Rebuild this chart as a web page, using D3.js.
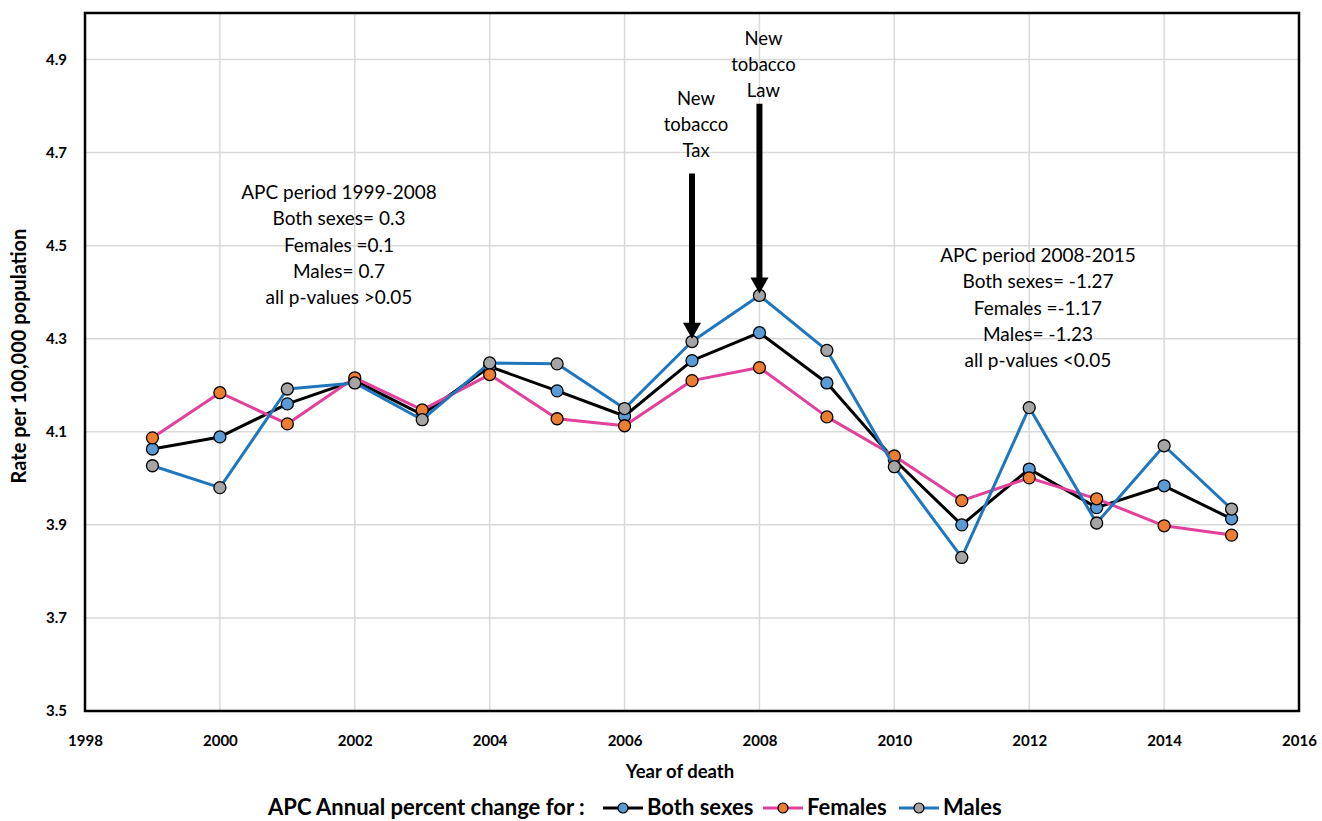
<!DOCTYPE html>
<html><head><meta charset="utf-8">
<script src="https://cdn.jsdelivr.net/npm/d3@7"></script>
<style>body{margin:0;background:#fff}svg{display:block}text{font-family:Lato,"Open Sans",sans-serif}</style>
</head><body><svg id="c" width="1322" height="821"></svg>
<script>
const years = [1999,2000,2001,2002,2003,2004,2005,2006,2007,2008,2009,2010,2011,2012,2013,2014,2015];
const bothSexes = [4.063,4.089,4.160,4.210,4.137,4.240,4.188,4.134,4.253,4.313,4.205,4.040,3.900,4.020,3.937,3.984,3.913];
const females  = [4.087,4.184,4.117,4.216,4.147,4.223,4.128,4.113,4.210,4.238,4.132,4.048,3.952,4.001,3.956,3.898,3.878];
const males    = [4.027,3.980,4.192,4.205,4.126,4.248,4.246,4.150,4.294,4.393,4.275,4.025,3.830,4.152,3.904,4.070,3.934];
const xTicks = [1998,2000,2002,2004,2006,2008,2010,2012,2014,2016];
const yTicks = [3.5,3.7,3.9,4.1,4.3,4.5,4.7,4.9];
const seriesNames = ["Both sexes","Females","Males"];
const leftNote = ["APC period 1999-2008","Both sexes= 0.3","Females =0.1","Males= 0.7","all p-values >0.05"];
const rightNote = ["APC period 2008-2015","Both sexes= -1.27","Females =-1.17","Males= -1.23","all p-values <0.05"];
const events = [{year:2007, label:["New","tobacco","Tax"], top:4.655, tip:4.3},
                {year:2008, label:["New","tobacco","Law"], top:4.805, tip:4.397}];

const lineCol = ["#000000","#E2409B","#1E77BE"];
const markCol = ["#5B9BD5","#ED7D31","#A5A5A5"];

const svg = d3.select("#c");
const L=85, R=1299, T=13, B=711;
const x = d3.scaleLinear().domain([1998,2016]).range([L,R]);
const y = d3.scaleLinear().domain([3.5,5.0]).range([B,T]);

// grid
svg.append("g").selectAll("line").data(yTicks.filter(v=>v>3.5)).join("line")
  .attr("x1",L).attr("x2",R).attr("y1",d=>y(d)).attr("y2",d=>y(d))
  .attr("stroke","#d9d9d9").attr("stroke-width",1.5);
svg.append("g").selectAll("line").data(xTicks.filter(v=>v>1998&&v<2016)).join("line")
  .attr("y1",T).attr("y2",B).attr("x1",d=>x(d)).attr("x2",d=>x(d))
  .attr("stroke","#d9d9d9").attr("stroke-width",1.5);

// frame
svg.append("rect").attr("x",L).attr("y",T).attr("width",R-L).attr("height",B-T)
  .attr("fill","none").attr("stroke","#000").attr("stroke-width",2.5);

// axes (labels only)
const yAx = svg.append("g").attr("transform",`translate(${L},0)`)
  .call(d3.axisLeft(y).tickValues(yTicks).tickSize(0).tickPadding(18).tickFormat(d3.format(".1f")));
yAx.select(".domain").remove();
yAx.selectAll("text").attr("font-size",15).attr("font-weight","bold").attr("fill","#000").style("font-family","Lato");
const xAx = svg.append("g").attr("transform",`translate(0,${B})`)
  .call(d3.axisBottom(x).tickValues(xTicks).tickSize(0).tickPadding(24).tickFormat(d3.format("d")));
xAx.select(".domain").remove();
xAx.selectAll("text").attr("font-size",15).attr("font-weight","bold").attr("fill","#000").style("font-family","Lato");

svg.append("text").attr("x",680).attr("y",778).attr("text-anchor","middle")
  .attr("font-size",18.5).attr("font-weight","bold").text("Year of death");
svg.append("text").attr("transform","translate(26,356) rotate(-90)").attr("text-anchor","middle")
  .attr("font-size",20).attr("font-weight","bold").text("Rate per 100,000 population");

// series
const data = [bothSexes,females,males];
const line = d3.line().x((d,i)=>x(years[i])).y(d=>y(d));
data.forEach((s,k)=>{
  const g = svg.append("g");
  g.append("path").datum(s).attr("d",line).attr("fill","none")
    .attr("stroke",lineCol[k]).attr("stroke-width",3).attr("stroke-linejoin","round");
  g.selectAll("circle").data(s).join("circle")
    .attr("cx",(d,i)=>x(years[i])).attr("cy",d=>y(d)).attr("r",6)
    .attr("fill",markCol[k]).attr("stroke","#000").attr("stroke-width",1.3);
});

// notes
function note(lines, cx, y0, dy, fs){
  const t = svg.append("text").attr("text-anchor","middle").attr("font-size",fs).attr("fill","#000");
  lines.forEach((s,i)=>t.append("tspan").attr("x",cx).attr("y",y0+i*dy).text(s));
}
note(leftNote, 339, 199, 26.3, 19);
note(rightNote, 1038, 262, 26.3, 19);

// arrows
events.forEach((e,k)=>{
  const cx = x(e.year);
  const yt = y(e.top), yp = y(e.tip);
  svg.append("line").attr("x1",cx).attr("x2",cx).attr("y1",yt).attr("y2",yp-14)
    .attr("stroke","#000").attr("stroke-width",6);
  svg.append("path").attr("d",`M${cx-9},${yp-16}L${cx+9},${yp-16}L${cx},${yp}Z`).attr("fill","#000");
  note(e.label, cx+4, yt - (k===0 ? 69 : 59), 26, 18.5);
});

// legend
const lg = svg.append("g");
lg.append("text").attr("x",268).attr("y",815).attr("font-size",22).attr("font-weight","bold").text("APC Annual percent change for :");
const lx = [603,763,899];
seriesNames.forEach((n,k)=>{
  lg.append("line").attr("x1",lx[k]).attr("x2",lx[k]+40).attr("y1",808).attr("y2",808)
    .attr("stroke",lineCol[k]).attr("stroke-width",3);
  lg.append("circle").attr("cx",lx[k]+20).attr("cy",808).attr("r",5)
    .attr("fill",markCol[k]).attr("stroke","#000").attr("stroke-width",1.2);
  lg.append("text").attr("x",lx[k]+44).attr("y",815).attr("font-size",22).attr("font-weight","bold").text(n);
});
</script></body></html>
